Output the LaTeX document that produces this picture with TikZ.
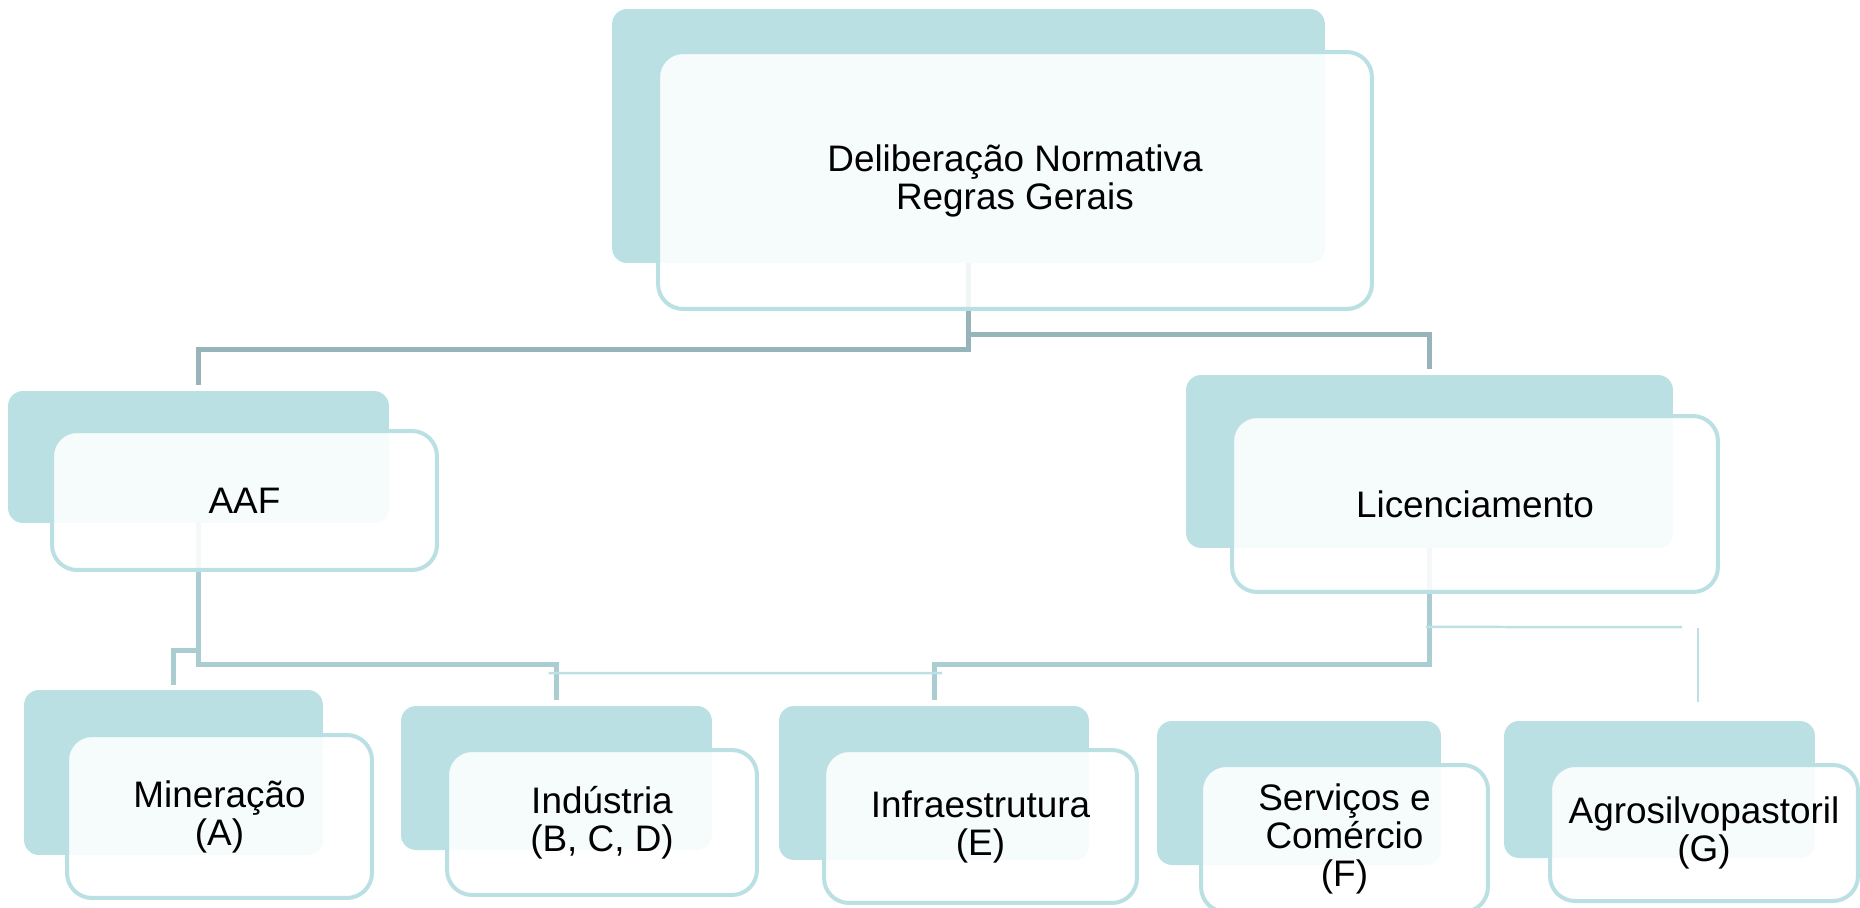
\documentclass[tikz,border=0pt]{standalone}
\usepackage{fontspec}
\setmainfont{Liberation Sans}
\usetikzlibrary{positioning,calc}
\definecolor{boxteal}{HTML}{BBE0E3}
\definecolor{topgray}{HTML}{97B4B8}
\definecolor{subteal}{HTML}{A9CDD0}
\definecolor{thinteal}{HTML}{BCE0E3}

\begin{document}
\begin{tikzpicture}[x=0.02cm, y=-0.02cm,
    backbox/.style={fill=boxteal, rounded corners=0.3cm, inner sep=0pt, outer sep=0pt},
    frontbox/.style={draw=boxteal, line width=0.08cm, fill=white, fill opacity=0.88, text opacity=1,
        rounded corners=0.5cm, inner sep=0pt, outer sep=0pt, align=center,
        font=\fontsize{21}{21.6}\selectfont},
    topline/.style={draw=topgray, line width=0.1cm},
    subline/.style={draw=subteal, line width=0.1cm},
    thinline/.style={draw=thinteal, line width=0.05cm}]
    \useasboundingbox (0,0) rectangle (1860,907);

    % Back blocks
    \node [backbox, minimum width=14.26cm, minimum height=5.08cm] (dnb) at (968.5,136) {};
    \node [backbox, minimum width=7.62cm, minimum height=2.64cm] (aafb) at (198.5,457) {};
    \node [backbox, minimum width=9.74cm, minimum height=3.46cm] (licb) at (1429.5,461.5) {};
    \node [backbox, minimum width=5.98cm, minimum height=3.30cm] (minb) at (173.5,772.5) {};
    \node [backbox, minimum width=6.22cm, minimum height=2.88cm] (indb) at (556.5,778) {};
    \node [backbox, minimum width=6.20cm, minimum height=3.08cm] (infb) at (934,783) {};
    \node [backbox, minimum width=5.68cm, minimum height=2.88cm] (serb) at (1299,793) {};
    \node [backbox, minimum width=6.22cm, minimum height=2.74cm] (agrb) at (1659.5,789.5) {};

    % Connections
    \draw [topline] (dnb.south) -- ++(0,87) -| ([yshift=0.12cm]aafb.north);
    \draw [topline] (dnb.south) -- ++(0,72) -| ([yshift=0.12cm]licb.north);
    \draw [subline] (aafb.south) -- ++(0,142) -| ([yshift=0.12cm]indb.north);
    \draw [subline] (licb.south) -- ++(0,116.5) -| ([yshift=0.12cm]infb.north);
    \coordinate (aafjoin) at ($(aafb.south)+(0,128)$);
    \draw [subline] (aafjoin) -| ([yshift=0.1cm]minb.north);

    % loose lines
    \coordinate (midl) at ($(indb.north)+(-8,-33)$);
    \coordinate (midr) at ($(infb.north)+(8,-33)$);
    \draw [thinline] (midl) -- (midr);
    \coordinate (licl) at ($(licb.south)+(-3.5,79)$);
    \coordinate (licr) at (1682,627);
    \draw [thinline] (licl) -- (licr);
    \coordinate (agrt) at ($(agrb.north)+(38.5,-93)$);
    \coordinate (agrm) at ($(agrb.north)+(38.5,-19)$);
    \draw [thinline, line width=0.03cm] (agrt) -- (agrm);

    % Front blocks
    \node [frontbox, minimum width=14.28cm, minimum height=5.14cm] (dn) at (1015,180.5) {Deliberação Normativa\\Regras Gerais};
    \node [frontbox, minimum width=7.70cm, minimum height=2.78cm] (aaf) at (244.5,500.5) {AAF};
    \node [frontbox, minimum width=9.72cm, minimum height=3.52cm] (lic) at (1475,504) {Licenciamento};
    \node [frontbox, minimum width=6.10cm, minimum height=3.26cm] (min) at (219.5,816.5) {Mineração\\(A)};
    \node [frontbox, minimum width=6.20cm, minimum height=2.90cm] (ind) at (602,822.5) {Indústria\\(B, C, D)};
    \node [frontbox, minimum width=6.26cm, minimum height=3.06cm] (inf) at (980.5,826.5) {Infraestrutura\\(E)};
    \node [frontbox, minimum width=5.74cm, minimum height=2.94cm] (ser) at (1344.5,838.5) {Serviços e\\Comércio\\(F)};
    \node [frontbox, minimum width=6.16cm, minimum height=2.72cm] (agr) at (1704,833) {Agrosilvopastoril\\(G)};

\end{tikzpicture}
\end{document}
